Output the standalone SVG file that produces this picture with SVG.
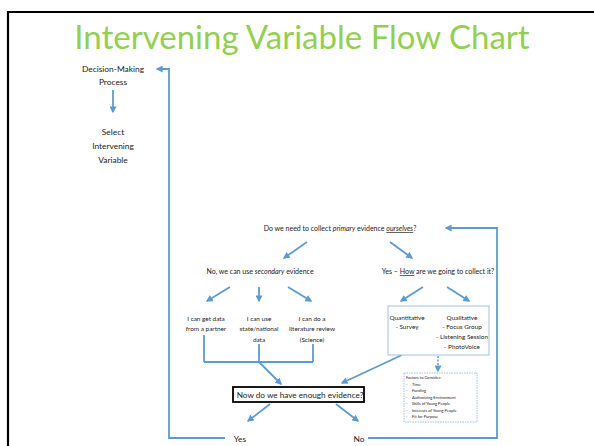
<svg xmlns="http://www.w3.org/2000/svg" width="594" height="446" viewBox="0 0 594 446">
<defs>
<style>
.t{font-family:Lato,"Liberation Sans",sans-serif;fill:#222;text-anchor:middle}
.s10{font-size:8.4px}
.s8{font-size:7px}
.s7{font-size:6.4px}
.s5{font-size:4px;text-anchor:start}
.c{stroke:#5B9BD5;stroke-width:1.8;fill:none}
.cd{stroke:#5B9BD5;stroke-width:1.5;fill:none;stroke-dasharray:2 1.5}
.box{fill:#fff;stroke:#9DC3E6;stroke-width:1}
.dbox{fill:#fff;stroke:#9DC3E6;stroke-width:1;stroke-dasharray:1.5 1}
</style>
<marker id="ah" viewBox="0 0 10 10" refX="8" refY="5" markerWidth="7" markerHeight="7" markerUnits="userSpaceOnUse" orient="auto">
<path d="M0,0 L10,5 L0,10 z" fill="#5B9BD5"/>
</marker>
</defs>
<rect width="594" height="446" fill="#fff"/>
<path d="M8,446 V12 H594" stroke="#000" stroke-width="2.2" fill="none"/>
<text x="302" y="49" font-family="Lato,'Liberation Sans',sans-serif" font-size="33" fill="#92D050" text-anchor="middle">Intervening Variable Flow Chart</text>

<g id="connectors">
<path class="c" d="M113,90 V112" marker-end="url(#ah)"/>
<path class="c" d="M225,438 H169 V69 H157" marker-end="url(#ah)"/>
<path class="c" d="M368,438 H497 V228 H446" marker-end="url(#ah)"/>
<path class="c" d="M307,242 L284,258" marker-end="url(#ah)"/>
<path class="c" d="M390,242 L412,258" marker-end="url(#ah)"/>
<path class="c" d="M230,287 L207,301" marker-end="url(#ah)"/>
<path class="c" d="M259,287 V301" marker-end="url(#ah)"/>
<path class="c" d="M288,287 L311,301" marker-end="url(#ah)"/>
<path class="c" d="M423,287 L401,301" marker-end="url(#ah)"/>
<path class="c" d="M447,287 L469,301" marker-end="url(#ah)"/>
<path class="c" d="M204,335 V362"/>
<path class="c" d="M259,344 V362"/>
<path class="c" d="M313,344 V362"/>
<path class="c" d="M204,362 H313"/>
<path class="c" d="M259,362 L281,384" marker-end="url(#ah)"/>
<path class="c" d="M402,355 L342,383" marker-end="url(#ah)"/>
<path class="cd" d="M438,356 V371" marker-end="url(#ah)"/>
<path class="c" d="M270,404 L248,421" marker-end="url(#ah)"/>
<path class="c" d="M336,404 L358,421" marker-end="url(#ah)"/>
</g>

<g id="decision">
<text class="t s10" x="113" y="72">Decision-Making</text>
<text class="t s10" x="113" y="85">Process</text>
</g>
<g id="select">
<text class="t s10" x="113" y="135">Select</text>
<text class="t s10" x="113" y="149">Intervening</text>
<text class="t s10" x="113" y="163">Variable</text>
</g>
<g id="q-primary">
<text class="t s8" x="340" y="231">Do we need to collect <tspan font-style="italic">primary</tspan> evidence <tspan font-style="italic" text-decoration="underline">ourselves</tspan>?</text>
</g>
<g id="no-secondary">
<text class="t s8" x="260" y="274">No, we can use <tspan font-style="italic">secondary</tspan> evidence</text>
</g>
<g id="yes-how">
<text class="t s8" x="438" y="274">Yes – <tspan text-decoration="underline">How</tspan> are we going to collect it?</text>
</g>
<g id="partner">
<text class="t s7" x="206" y="321">I can get data</text>
<text class="t s7" x="206" y="331">from a partner</text>
</g>
<g id="state">
<text class="t s7" x="259" y="321">I can use</text>
<text class="t s7" x="259" y="331">state/national</text>
<text class="t s7" x="259" y="342">data</text>
</g>
<g id="literature">
<text class="t s7" x="312" y="321">I can do a</text>
<text class="t s7" x="312" y="331">literature review</text>
<text class="t s7" x="312" y="342">(Science)</text>
</g>
<g id="methods">
<rect class="box" x="388" y="306" width="101" height="49"/>
<text class="t s7" x="407" y="320">Quantitative</text>
<text class="t s7" x="407" y="329">- Survey</text>
<text class="t s7" x="462" y="320">Qualitative</text>
<text class="t s7" x="462" y="329">- Focus Group</text>
<text class="t s7" x="462" y="339">- Listening Session</text>
<text class="t s7" x="462" y="349">- PhotoVoice</text>
</g>
<g id="factors">
<rect class="dbox" x="404" y="373" width="73" height="49"/>
<text class="t s5" x="406" y="379">Factors to Consider:</text>
<text class="t s5" x="406" y="385.5">-</text><text class="t s5" x="412" y="385.5">Time</text>
<text class="t s5" x="406" y="392">-</text><text class="t s5" x="412" y="392">Funding</text>
<text class="t s5" x="406" y="398.5">-</text><text class="t s5" x="412" y="398.5">Authorizing Environment</text>
<text class="t s5" x="406" y="405">-</text><text class="t s5" x="412" y="405">Skills of Young People</text>
<text class="t s5" x="406" y="411.5">-</text><text class="t s5" x="412" y="411.5">Interests of Young People</text>
<text class="t s5" x="406" y="418">-</text><text class="t s5" x="412" y="418">Fit for Purpose</text>
</g>
<g id="enough">
<rect x="233" y="387" width="131" height="15" fill="#fff" stroke="#000" stroke-width="1.8"/>
<text class="t" x="300" y="398" font-size="8.2">Now do we have enough evidence?</text>
</g>
<g id="yes">
<text class="t s10" x="240" y="442">Yes</text>
</g>
<g id="no">
<text class="t s10" x="359" y="442">No</text>
</g>
</svg>
